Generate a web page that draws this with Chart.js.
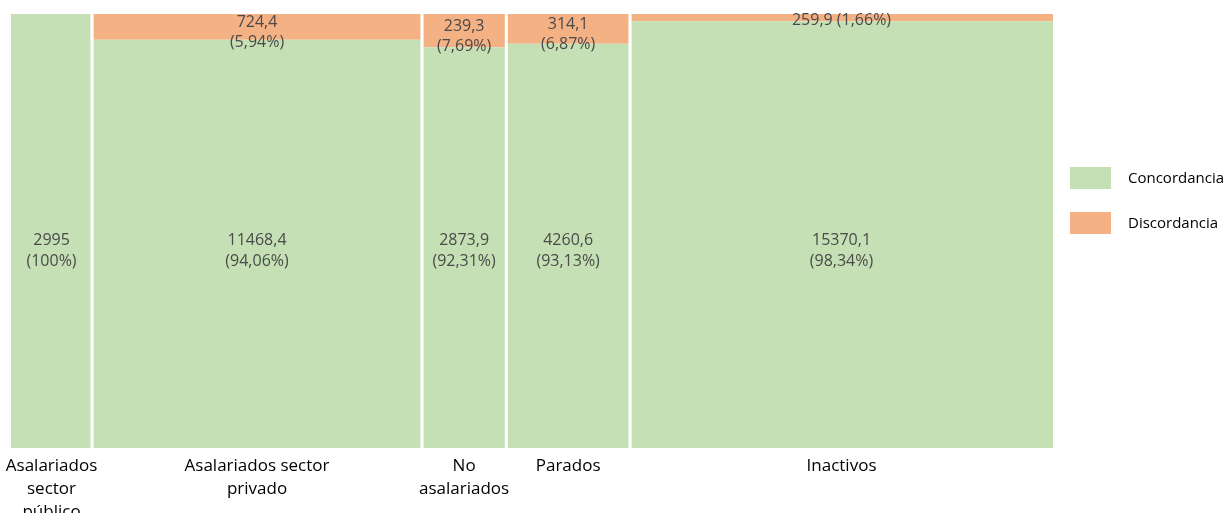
<!DOCTYPE html>
<html>
<head>
<meta charset="utf-8">
<script src="https://cdn.jsdelivr.net/npm/chart.js@4"></script>
<style>
  body { margin: 0; background: #fff; }
  #wrap { width: 1224px; height: 513px; }
</style>
</head>
<body>
<div id="wrap"><canvas id="mosaic" width="1224" height="513"></canvas></div>
<script>
// Concordancia / discordancia by labour situation (thousands)
const categories = [
    ['Asalariados', 'sector', 'público'],
    ['Asalariados sector', 'privado'],
    ['No', 'asalariados'],
    ['Parados'],
    ['Inactivos']
];
const concordancia = [2995, 11468.4, 2873.9, 4260.6, 15370.1];
const discordancia = [0, 724.4, 239.3, 314.1, 259.9];
const seriesNames = ['Concordancia', 'Discordancia'];

const green = '#C5E0B4';
const orange = '#F4B183';
const textColor = '#4a4a4a';
const fontFamily = '"Open Sans", "Noto Sans", sans-serif';

// column widths follow each category total
const totals = concordancia.map((c, i) => c + discordancia[i]);
const grandTotal = totals.reduce((a, b) => a + b, 0);
const gap = grandTotal * 0.0013; // thin white gap between columns

let edges = [0];
totals.forEach(t => edges.push(edges[edges.length - 1] + t));

const concShare = concordancia.map((c, i) => c / totals[i] * 100);

const concPoints = [];
const discPoints = [];
totals.forEach((t, i) => {
    const x0 = edges[i] + (i > 0 ? gap : 0), x1 = edges[i + 1] - (i < totals.length - 1 ? gap : 0);
    concPoints.push({x: x0, y: concShare[i]}, {x: x1, y: concShare[i]}, {x: edges[i + 1], y: null});
    discPoints.push({x: x0, y: 100}, {x: x1, y: 100}, {x: edges[i + 1], y: null});
});

const fmtNum = v => String(v).replace('.', ',');
const fmtPct = p => (Math.abs(p - Math.round(p)) < 1e-9 ? String(Math.round(p)) : p.toFixed(2).replace('.', ',')) + '%';

// value labels, category labels and legend
const mosaicLabels = {
    id: 'mosaicLabels',
    afterDraw(chart) {
        const ctx = chart.ctx;
        const xs = chart.scales.x, ys = chart.scales.y;
        const area = chart.chartArea;
        ctx.save();
        ctx.fillStyle = textColor;
        ctx.textAlign = 'center';
        ctx.textBaseline = 'middle';

        ctx.font = '16px ' + fontFamily;
        totals.forEach((t, i) => {
            const cx = xs.getPixelForValue((edges[i] + edges[i + 1]) / 2);
            const yTop = ys.getPixelForValue(100);
            const yMid = ys.getPixelForValue(concShare[i]);
            const yBot = ys.getPixelForValue(0);
            // concordancia
            const cy = (yTop + yBot) / 2 + 19;
            ctx.fillText(fmtNum(concordancia[i]), cx, cy - 10);
            ctx.fillText('(' + fmtPct(concShare[i]) + ')', cx, cy + 11);
            // discordancia
            if (discordancia[i] > 0) {
                const dp = 100 - concShare[i];
                const h = yMid - yTop;
                if (h < 15) {
                    ctx.fillText(fmtNum(discordancia[i]) + ' (' + fmtPct(dp) + ')', cx, yTop + 6);
                } else {
                    const dy = (yTop + yMid) / 2 + 6;
                    ctx.fillText(fmtNum(discordancia[i]), cx, dy - 10);
                    ctx.fillText('(' + fmtPct(dp) + ')', cx, dy + 10);
                }
            }
        });

        // category labels under each column
        ctx.font = '17px ' + fontFamily;
        ctx.fillStyle = '#000';
        categories.forEach((lines, i) => {
            const cx = xs.getPixelForValue((edges[i] + edges[i + 1]) / 2);
            lines.forEach((ln, j) => {
                ctx.fillText(ln, cx, area.bottom + 18 + j * 23);
            });
        });

        // legend
        ctx.font = '15px ' + fontFamily;
        ctx.textAlign = 'left';
        chart.data.datasets.forEach((ds, k) => {
            const top = 167 + k * 45;
            ctx.fillStyle = ds.backgroundColor;
            ctx.fillRect(1070, top, 41, 22);
            ctx.fillStyle = '#000';
            ctx.fillText(ds.label, 1128, top + 12);
        });
        ctx.restore();
    }
};

const ctxMosaic = document.getElementById('mosaic').getContext('2d');
const mosaicChart = new Chart(ctxMosaic, {
    type: 'line',
    data: {
        datasets: [{
            label: seriesNames[0],
            data: concPoints,
            backgroundColor: green,
            borderColor: green,
            borderWidth: 0,
            pointRadius: 0,
            fill: 'origin',
            spanGaps: false
        }, {
            label: seriesNames[1],
            data: discPoints,
            backgroundColor: orange,
            borderColor: orange,
            borderWidth: 0,
            pointRadius: 0,
            fill: '-1',
            spanGaps: false
        }]
    },
    options: {
        responsive: false,
        animation: false,
        layout: { padding: { left: 11, top: 14, right: 171, bottom: 65 } },
        scales: {
            x: { type: 'linear', min: 0, max: grandTotal, display: false },
            y: { min: 0, max: 100, display: false }
        },
        plugins: {
            legend: { display: false },
            tooltip: { enabled: false }
        }
    },
    plugins: [mosaicLabels]
});
</script>
</body>
</html>
